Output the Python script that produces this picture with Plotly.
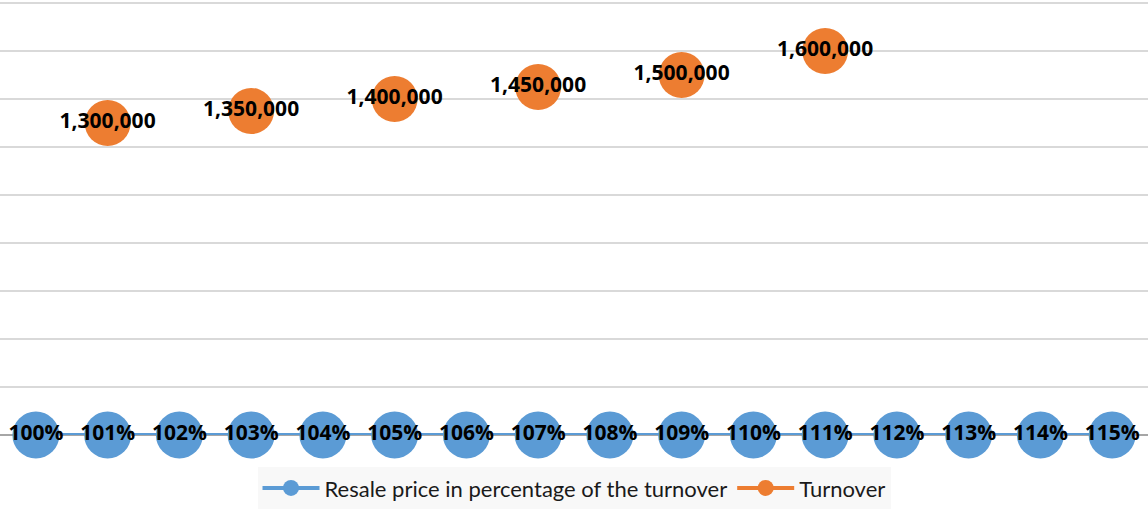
import plotly.graph_objects as go

positions = list(range(16))
resale_pct = [1.00, 1.01, 1.02, 1.03, 1.04, 1.05, 1.06, 1.07, 1.08, 1.09, 1.10, 1.11, 1.12, 1.13, 1.14, 1.15]
turnover = [None, 1300000, None, 1350000, None, 1400000, None, 1450000, None, 1500000,
            None, 1600000, None, None, None, None]

BLUE = "#5B9BD5"
ORANGE = "#ED7D31"
FONT = "Lato"
LABEL_FONT = "Open Sans"

fig = go.Figure()
fig.add_trace(go.Scatter(
    x=positions, y=resale_pct, name="Resale price in percentage of the turnover",
    mode="lines+markers+text",
    line=dict(color=BLUE, width=4),
    marker=dict(color=BLUE, size=47),
    text=[f"{v:.0%}" for v in resale_pct], textposition="middle center",
    textfont=dict(family=LABEL_FONT, size=21, color="#000000", weight="bold"),
    cliponaxis=False,
))
fig.add_trace(go.Scatter(
    x=positions, y=turnover, name="Turnover",
    mode="lines+markers+text",
    line=dict(color=ORANGE, width=4),
    marker=dict(color=ORANGE, size=46),
    text=[("" if v is None else f"{v:,}") for v in turnover], textposition="middle center",
    textfont=dict(family=LABEL_FONT, size=21, color="#000000", weight="bold"),
    connectgaps=False,
    cliponaxis=False,
))

fig.update_layout(
    width=1148, height=510,
    margin=dict(l=0, r=0, t=1, b=75),
    paper_bgcolor="white", plot_bgcolor="white",
    font=dict(family=FONT, color="#1a1a1a"),
    showlegend=True,
    legend=dict(orientation="h", x=0.5, xanchor="center", y=-0.074, yanchor="top",
                bgcolor="#f8f8f8", font=dict(family=FONT, size=22, color="#1a1a1a"),
                itemwidth=57, traceorder="normal"),
    xaxis=dict(range=[-0.5, 15.5], showticklabels=False, showgrid=False, zeroline=False,
               showline=False, ticks=""),
    yaxis=dict(range=[0, 1808000], dtick=200000, showticklabels=False, ticks="",
               showgrid=True, gridcolor="#d9d9d9", gridwidth=2,
               zeroline=True, zerolinecolor="#a6a6a6", zerolinewidth=2, showline=False),
)

fig.write_html("out.html")
